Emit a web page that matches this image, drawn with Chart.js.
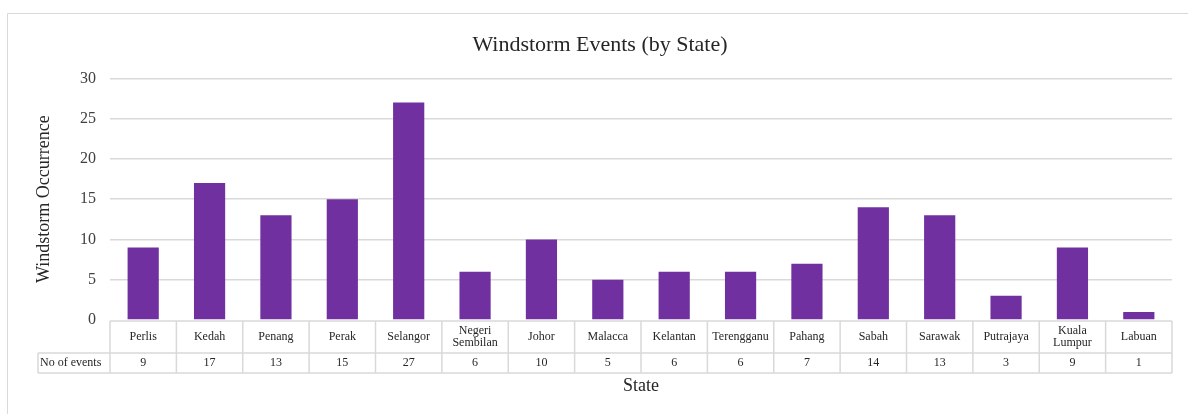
<!DOCTYPE html>
<html>
<head>
<meta charset="utf-8">
<script src="https://cdn.jsdelivr.net/npm/chart.js@4/dist/chart.umd.min.js"></script>
<style>
  html, body { margin: 0; padding: 0; background: #fff; }
  #wrap { width: 1188px; height: 414px; position: relative; }
</style>
</head>
<body>
<div id="wrap"><canvas id="grafico"></canvas></div>
<script>
// Dados do grafico
const categorias = ['Perlis', 'Kedah', 'Penang', 'Perak', 'Selangor', ['Negeri', 'Sembilan'], 'Johor', 'Malacca',
	'Kelantan', 'Terengganu', 'Pahang', 'Sabah', 'Sarawak', 'Putrajaya', ['Kuala', 'Lumpur'], 'Labuan'];
const eventos = [9, 17, 13, 15, 27, 6, 10, 5, 6, 6, 7, 14, 13, 3, 9, 1];
const rotuloLinha = 'No of events';
const ticksY = [0, 5, 10, 15, 20, 25, 30];

const serif = "'Liberation Serif', 'DejaVu Serif', serif";
const cinza = '#d9d9d9';

// Tabela de dados abaixo do eixo x + borda externa
const tabelaPlugin = {
	id: 'tabela',
	beforeDraw(chart) {
		const ctx = chart.ctx;
		ctx.save();
		ctx.strokeStyle = cinza;
		ctx.lineWidth = 1;
		ctx.beginPath();
		ctx.moveTo(7.5, 414);
		ctx.lineTo(7.5, 13.5);
		ctx.lineTo(1188, 13.5);
		ctx.stroke();
		ctx.restore();
	},
	afterDraw(chart) {
		const ctx = chart.ctx;
		const x = chart.scales.x;
		const area = chart.chartArea;
		const top = area.bottom + 1;
		const meio = top + 32;
		const fim = meio + 20;
		const larg = (area.right - area.left) / categorias.length;
		const esq = 38;

		ctx.save();
		ctx.strokeStyle = cinza;
		ctx.lineWidth = 1.5;
		ctx.beginPath();
		// linhas horizontais
		ctx.moveTo(area.left, top); ctx.lineTo(area.right, top);
		ctx.moveTo(esq, meio); ctx.lineTo(area.right, meio);
		ctx.moveTo(esq, fim); ctx.lineTo(area.right, fim);
		ctx.moveTo(esq, meio); ctx.lineTo(esq, fim);
		// linhas verticais
		for (let i = 0; i <= categorias.length; i++) {
			const px = x.getPixelForValue(i) - larg / 2;
			ctx.moveTo(px, top); ctx.lineTo(px, fim);
		}
		ctx.stroke();

		ctx.fillStyle = '#262626';
		ctx.font = '12px ' + serif;
		ctx.textAlign = 'center';
		ctx.textBaseline = 'middle';
		for (let i = 0; i < categorias.length; i++) {
			const px = x.getPixelForValue(i);
			const cat = categorias[i];
			if (Array.isArray(cat)) {
				ctx.fillText(cat[0], px, top + 10);
				ctx.fillText(cat[1], px, top + 22);
			} else {
				ctx.fillText(cat, px, top + 16);
			}
			ctx.fillText(String(eventos[i]), px, meio + 10);
		}
		ctx.textAlign = 'left';
		ctx.fillText(rotuloLinha, esq + 2, meio + 10);

		// titulo do eixo x
		ctx.font = '18px ' + serif;
		ctx.textAlign = 'center';
		ctx.fillStyle = '#262626';
		ctx.fillText('State', (area.left + area.right) / 2, fim + 13);
		ctx.restore();
	}
};

let grafico = new Chart(document.getElementById('grafico').getContext('2d'), {
	type: 'bar',
	data: {
		labels: categorias,
		datasets: [{
			label: rotuloLinha,
			data: eventos,
			backgroundColor: '#7030A0',
			categoryPercentage: 1,
			barPercentage: 0.47
		}]
	},
	options: {
		responsive: true,
		maintainAspectRatio: false,
		animation: false,
		layout: { padding: { top: 32, left: 28, right: 16, bottom: 0 } },
		plugins: {
			legend: { display: false },
			tooltip: { enabled: false },
			title: {
				display: true,
				text: 'Windstorm Events (by State)',
				color: '#262626',
				font: { family: serif, size: 22, weight: 'normal' },
				padding: { top: 0, bottom: 20 }
			}
		},
		scales: {
			x: {
				ticks: { display: false },
				grid: { display: false },
				border: { display: false },
				afterFit(scale) { scale.height = 94; }
			},
			y: {
				min: 0,
				max: 30,
				afterBuildTicks(scale) { scale.ticks = ticksY.map(v => ({ value: v })); },
				ticks: { color: '#404040', font: { family: serif, size: 16 }, padding: 14 },
				grid: {
					color: (c) => c.tick && c.tick.value === 0 ? 'rgba(0,0,0,0)' : cinza,
					lineWidth: 1.5,
					drawTicks: false
				},
				border: { display: false },
				title: {
					display: true,
					text: 'Windstorm Occurrence',
					color: '#262626',
					font: { family: serif, size: 18 },
					padding: { top: 5, bottom: 0 }
				},
				afterFit(scale) { scale.width = 82; }
			}
		}
	},
	plugins: [tabelaPlugin]
});
</script>
</body>
</html>
